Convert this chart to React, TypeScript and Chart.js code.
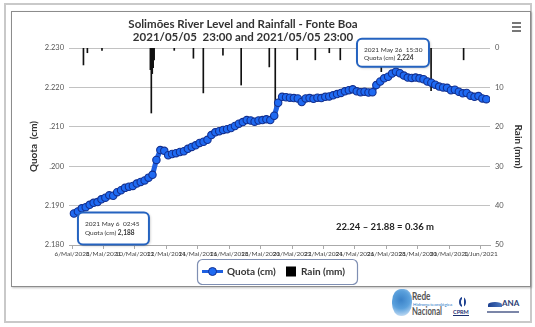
import React, { useEffect, useRef } from "react";
import { Chart, registerables } from "chart.js";

Chart.register(...registerables);

const FONT = "Lato, 'Open Sans', sans-serif";

const CHART_TITLE = "Solimões River Level and Rainfall - Fonte Boa";
const CHART_SUBTITLE = "2021/05/05  23:00 and 2021/05/05 23:00";

// x values are days since 2021-05-06 00:00
const X_TICK_DAYS = [0, 2, 4, 6, 8, 10, 12, 14, 16, 18, 20, 22, 24, 26];
const X_TICK_LABELS = [
  "6/Mai/2021", "8/Mai/2021", "10/Mai/2021", "12/Mai/2021", "14/Mai/2021",
  "16/Mai/2021", "18/Mai/2021", "20/Mai/2021", "22/Mai/2021", "24/Mai/2021",
  "26/Mai/2021", "28/Mai/2021", "30/Mai/2021", "1/Jun/2021",
];

const QUOTA_TICKS = [2180, 2190, 2200, 2210, 2220, 2230];
const QUOTA_TICK_LABELS = ["2.180", "2.190", ".200", ".210", "2.220", "2.230"];
const RAIN_TICKS = [0, 10, 20, 30, 40, 50];

// river level (cm), one reading every 6 h starting 2021-05-06 02:45
const LEVEL_START_DAY = 2.75 / 24;
const LEVEL_STEP_DAYS = 0.25;
const LEVEL_CM = [
  2188.0, 2188.5, 2189.3, 2189.6,
  2190.2, 2190.7, 2190.9, 2191.6,
  2192.0, 2192.6, 2192.5, 2193.4,
  2193.9, 2194.5, 2194.8, 2195.0,
  2195.6, 2196.0, 2196.4, 2197.1,
  2197.8, 2201.6, 2204.1, 2203.9,
  2202.8, 2203.1, 2203.3, 2203.6,
  2203.8, 2204.4, 2204.9, 2205.3,
  2205.9, 2206.2, 2206.7, 2207.9,
  2208.6, 2208.9, 2209.2, 2209.4,
  2209.7, 2210.2, 2210.8, 2211.2,
  2211.7, 2211.6, 2211.3, 2211.6,
  2211.7, 2211.9, 2211.7, 2212.8,
  2216.1, 2217.6, 2217.5, 2217.4,
  2217.3, 2217.2, 2216.3, 2217.2,
  2217.3, 2217.1, 2217.4, 2217.3,
  2217.6, 2217.7, 2218.0, 2218.3,
  2218.6, 2219.0, 2219.3, 2219.5,
  2219.0, 2218.8, 2218.9, 2218.7,
  2218.8, 2220.6, 2221.5, 2222.3,
  2222.7, 2223.5, 2224.0, 2223.6,
  2223.0, 2222.5, 2222.4, 2222.5,
  2222.3, 2222.1, 2221.5, 2221.2,
  2220.7, 2220.2, 2220.0, 2219.9,
  2219.3, 2219.4, 2218.9, 2218.5,
  2218.6, 2217.9, 2217.6, 2217.8,
  2217.2, 2217.0,
];

// rainfall events (day since 2021-05-06 00:00, mm)
const RAIN_DAYS = [0.72, 0.97, 1.9, 4.98, 5.04, 5.1, 5.16, 5.22, 6.5, 7.72, 8.35, 9.6, 10.76, 12.55, 12.93, 14.33, 15.48, 16.37, 17.07, 19.68, 22.85, 24.92];
const RAIN_MM = [4.3, 1.2, 0.6, 5.5, 16.5, 6.5, 5.0, 3.0, 0.6, 2.6, 11.4, 1.8, 9.4, 4.8, 18.0, 3.0, 3.0, 1.2, 3.0, 6.0, 10.8, 3.0];

const PEAK_TIME_LABEL = "2021 May 26  15:30";
const LOW_TIME_LABEL = "2021 May 6  02:45";

const LINE_COLOR = "#1e5fe0";
const POINT_FILL = "#1f6af2";
const POINT_EDGE = "#13308f";

function roundRect(ctx: CanvasRenderingContext2D, x: number, y: number, w: number, h: number, r: number) {
  ctx.beginPath();
  ctx.moveTo(x + r, y);
  ctx.arcTo(x + w, y, x + w, y + h, r);
  ctx.arcTo(x + w, y + h, x, y + h, r);
  ctx.arcTo(x, y + h, x, y, r);
  ctx.arcTo(x, y, x + w, y, r);
  ctx.closePath();
}

function drawNote(ctx: CanvasRenderingContext2D, bx: number, by: number, w: number, h: number, timeLabel: string, value: number, line1: number, line2: number) {
  ctx.save();
  ctx.shadowColor = "rgba(0,0,0,0.3)";
  ctx.shadowBlur = 3;
  ctx.shadowOffsetX = 1;
  ctx.shadowOffsetY = 1;
  roundRect(ctx, bx, by, w, h, 5);
  ctx.fillStyle = "#ffffff";
  ctx.fill();
  ctx.shadowColor = "transparent";
  ctx.lineWidth = 2;
  ctx.strokeStyle = "#2563c0";
  ctx.stroke();
  ctx.fillStyle = "#333";
  ctx.textAlign = "left";
  ctx.textBaseline = "middle";
  ctx.font = `6.5px ${FONT}`;
  ctx.fillText(timeLabel, bx + 7, by + line1);
  const prefix = "Quota (cm) ";
  ctx.fillText(prefix, bx + 7, by + line2);
  const pw = ctx.measureText(prefix).width;
  ctx.font = `bold 6.5px ${FONT}`;
  ctx.fillText(value.toLocaleString("en-US"), bx + 7 + pw, by + line2);
  ctx.restore();
}

const decorations = {
  id: "decorations",
  afterDatasetsDraw(chart: any) {
    const ctx: CanvasRenderingContext2D = chart.ctx;
    const xs = chart.scales.x;
    const ys = chart.scales.y;
    const maxV = Math.max(...LEVEL_CM);
    const minV = Math.min(...LEVEL_CM);
    const peakIdx = LEVEL_CM.indexOf(maxV);
    const lowIdx = LEVEL_CM.indexOf(minV);

    const px = xs.getPixelForValue(LEVEL_START_DAY + peakIdx * LEVEL_STEP_DAYS);
    const py = ys.getPixelForValue(maxV);
    drawNote(ctx, px - 39, py - 33, 72, 28, PEAK_TIME_LABEL, maxV, 11, 19);

    const lx = xs.getPixelForValue(LEVEL_START_DAY + lowIdx * LEVEL_STEP_DAYS);
    const ly = ys.getPixelForValue(minV);
    drawNote(ctx, lx + 4, ly - 1, 71, 32, LOW_TIME_LABEL, minV, 11.5, 20.5);

    // level range statement
    ctx.save();
    ctx.fillStyle = "#222";
    ctx.font = `bold 9.5px ${FONT}`;
    ctx.textAlign = "center";
    ctx.textBaseline = "middle";
    const diff = `${(maxV / 100).toFixed(2)} – ${(minV / 100).toFixed(2)} = ${((maxV - minV) / 100).toFixed(2)} m`;
    ctx.fillText(diff, 372, 214);
    ctx.restore();
  },
  afterDraw(chart: any) {
    const ctx: CanvasRenderingContext2D = chart.ctx;
    ctx.save();
    // title
    ctx.fillStyle = "#333";
    ctx.font = `bold 11.5px ${FONT}`;
    ctx.textAlign = "center";
    ctx.textBaseline = "middle";
    ctx.fillText(CHART_TITLE, 230, 11.5);
    ctx.fillText(CHART_SUBTITLE, 230, 24);

    // menu button
    ctx.strokeStyle = "#555";
    ctx.lineWidth = 1.6;
    [10, 14, 18].forEach((yy) => {
      ctx.beginPath();
      ctx.moveTo(499, yy);
      ctx.lineTo(508, yy);
      ctx.stroke();
    });

    // legend
    ctx.lineWidth = 1.2;
    ctx.strokeStyle = "#7f8fb3";
    roundRect(ctx, 184.5, 246.5, 160, 25, 5);
    ctx.stroke();
    ctx.strokeStyle = LINE_COLOR;
    ctx.lineWidth = 3;
    ctx.beginPath();
    ctx.moveTo(189, 258.5);
    ctx.lineTo(210, 258.5);
    ctx.stroke();
    ctx.beginPath();
    ctx.arc(199.5, 258.5, 4, 0, Math.PI * 2);
    ctx.fillStyle = POINT_FILL;
    ctx.fill();
    ctx.lineWidth = 1;
    ctx.strokeStyle = POINT_EDGE;
    ctx.stroke();
    ctx.fillStyle = "#333";
    ctx.font = `bold 10px ${FONT}`;
    ctx.textAlign = "left";
    ctx.fillText("Quota (cm)", 214, 259);
    ctx.fillStyle = "#000";
    ctx.fillRect(273, 253.5, 10, 10);
    ctx.fillStyle = "#333";
    ctx.fillText("Rain (mm)", 288, 259);
    ctx.restore();
  },
};

export default function App() {
  const canvasRef = useRef<HTMLCanvasElement | null>(null);

  useEffect(() => {
    const canvas = canvasRef.current;
    if (!canvas) return;
    const chart = new Chart(canvas, {
      type: "line",
      data: {
        datasets: [
          {
            type: "line",
            label: "Quota (cm)",
            data: LEVEL_CM.map((v, i) => ({ x: LEVEL_START_DAY + i * LEVEL_STEP_DAYS, y: v })),
            xAxisID: "x",
            yAxisID: "y",
            borderColor: LINE_COLOR,
            borderWidth: 5,
            pointRadius: 3.7,
            pointBackgroundColor: POINT_FILL,
            pointBorderColor: POINT_EDGE,
            pointBorderWidth: 1.1,
            tension: 0,
            order: 0,
          },
          {
            type: "bar",
            label: "Rain (mm)",
            data: RAIN_DAYS.map((d, i) => ({ x: d, y: RAIN_MM[i] })),
            xAxisID: "x",
            yAxisID: "rain",
            backgroundColor: "#111",
            barThickness: 1,
            grouped: false,
            order: 1,
          } as any,
        ],
      },
      options: {
        animation: false,
        responsive: false,
        devicePixelRatio: 1,
        layout: { padding: { top: 35, bottom: 28, left: 0, right: 0 } },
        plugins: {
          legend: { display: false },
          tooltip: { enabled: false },
          title: { display: false },
        },
        scales: {
          x: {
            type: "linear",
            min: -0.2,
            max: 26.6,
            offset: false,
            afterBuildTicks: (s: any) => {
              s.ticks = X_TICK_DAYS.map((v) => ({ value: v }));
            },
            afterFit: (s: any) => {
              s.height = 12;
            },
            ticks: {
              autoSkip: false,
              maxRotation: 0,
              minRotation: 0,
              padding: 1,
              color: "#444",
              font: { family: FONT, size: 6.5 },
              callback: (_v: any, i: number) => X_TICK_LABELS[i],
            },
            grid: { drawOnChartArea: false, drawTicks: true, tickLength: 4, color: "#aaa", offset: false },
            border: { display: true, color: "#aaa" },
          },
          y: {
            type: "linear",
            position: "left",
            min: 2180,
            max: 2230,
            afterBuildTicks: (s: any) => {
              s.ticks = QUOTA_TICKS.map((v) => ({ value: v }));
            },
            afterFit: (s: any) => {
              s.width = 56;
            },
            ticks: {
              padding: 5,
              color: "#555",
              font: { family: FONT, size: 7.5 },
              callback: (_v: any, i: number) => QUOTA_TICK_LABELS[i],
            },
            grid: { color: "#c2c2c2", drawTicks: false },
            border: { display: false },
            title: {
              display: true,
              text: "Quota  (cm)",
              color: "#333",
              font: { family: FONT, size: 10, weight: "bold" },
              padding: { top: 15, bottom: 0 },
            },
          },
          rain: {
            type: "linear",
            position: "right",
            reverse: true,
            min: 0,
            max: 50,
            afterBuildTicks: (s: any) => {
              s.ticks = RAIN_TICKS.map((v) => ({ value: v }));
            },
            afterFit: (s: any) => {
              s.width = 40;
            },
            ticks: {
              padding: 5,
              color: "#555",
              font: { family: FONT, size: 7.5 },
            },
            grid: { display: false, drawTicks: false },
            border: { display: false },
            title: {
              display: true,
              text: "Rain (mm)",
              color: "#333",
              font: { family: FONT, size: 10, weight: "bold" },
              padding: { top: 6, bottom: 0 },
            },
          },
        } as any,
      },
      plugins: [decorations as any],
    });
    return () => chart.destroy();
  }, []);

  return (
    <div
      style={{
        position: "fixed",
        left: 0,
        top: 0,
        width: 535,
        height: 327,
        background: "#fff",
        overflow: "hidden",
        fontFamily: FONT,
      }}
    >
      <div
        style={{
          position: "absolute",
          left: 4,
          top: 3,
          width: 528,
          height: 320,
          border: "2px solid #c9c9c9",
          boxSizing: "border-box",
        }}
      />
      <div
        style={{
          position: "absolute",
          left: 11,
          top: 11,
          width: 520,
          height: 276,
          border: "1px solid #8c8c8c",
          boxShadow: "1px 1px 2px rgba(0,0,0,0.25)",
          boxSizing: "border-box",
          background: "#fff",
        }}
      />
      <canvas
        ref={canvasRef}
        width={517}
        height={272}
        style={{ position: "absolute", left: 13, top: 13, width: 517, height: 272 }}
      />
      {/* agency marks */}
      <div
        style={{
          position: "absolute",
          left: 392,
          top: 289,
          width: 20,
          height: 27,
          borderRadius: "45% 40% 50% 45%",
          background: "radial-gradient(circle at 45% 40%, #3b82c8 0%, #5aa0dc 45%, #a9cdee 75%, rgba(255,255,255,0) 100%)",
        }}
      />
      <div style={{ position: "absolute", left: 412, top: 290, fontSize: 11, fontWeight: 700, color: "#555", transform: "scaleX(0.75)", transformOrigin: "left top", lineHeight: "12px" }}>Rede</div>
      <div style={{ position: "absolute", left: 413, top: 302, fontSize: 4.5, color: "#2a7bc8", lineHeight: "5px", whiteSpace: "nowrap" }}>Hidrometeorológica</div>
      <div style={{ position: "absolute", left: 412, top: 305, fontSize: 11, fontWeight: 700, color: "#555", transform: "scaleX(0.7)", transformOrigin: "left top", lineHeight: "12px" }}>Nacional</div>
      <div style={{ position: "absolute", left: 459, top: 297, width: 7, height: 10, border: "2px solid #1c3f8f", borderRadius: "50%", boxSizing: "border-box" }} />
      <div style={{ position: "absolute", left: 462, top: 296, width: 1.5, height: 12, background: "#fff" }} />
      <div style={{ position: "absolute", left: 453, top: 309, fontSize: 5.5, fontWeight: 700, color: "#1c2f6f", lineHeight: "6px", borderBottom: "1px solid #1c2f6f" }}>CPRM</div>
      <div style={{ position: "absolute", left: 488, top: 302, width: 14, height: 5, borderRadius: "50% 50% 0 0", background: "linear-gradient(90deg, #1c3f8f, #4a78c0)" }} />
      <div style={{ position: "absolute", left: 502, top: 299, fontSize: 8, fontWeight: 700, color: "#2b3e73", lineHeight: "9px" }}>ANA</div>
      <div style={{ position: "absolute", left: 487, top: 311, width: 32, height: 1.5, background: "#7b86a8" }} />
    </div>
  );
}
